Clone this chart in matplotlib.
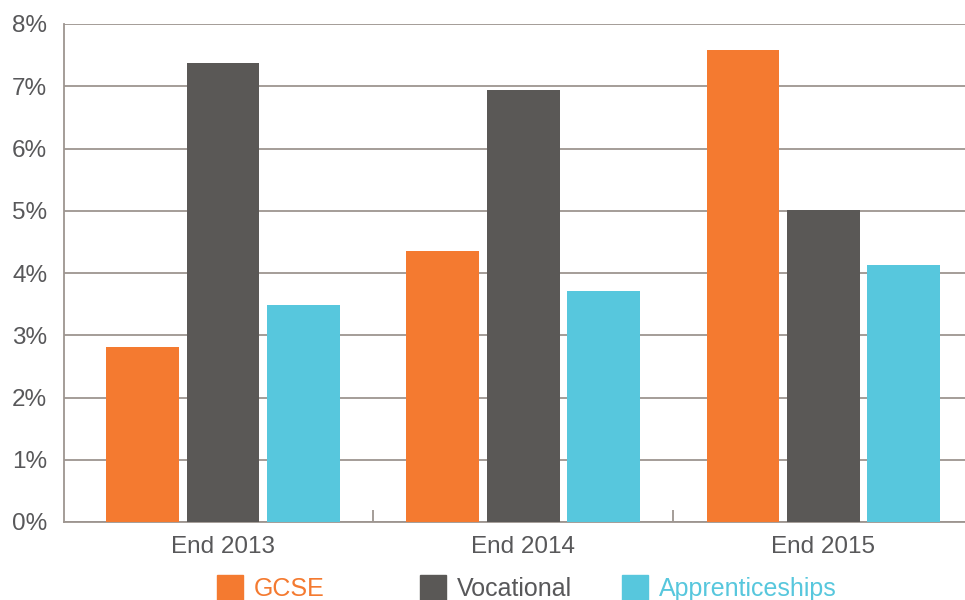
import matplotlib
matplotlib.use("Agg")
import matplotlib.pyplot as plt
import numpy as np
from matplotlib.patches import Rectangle

plt.rcParams["font.family"] = ["Liberation Sans", "DejaVu Sans"]

CATEGORIES = ["End 2013", "End 2014", "End 2015"]
SERIES = ["GCSE", "Vocational", "Apprenticeships"]
GCSE = [2.81, 4.35, 7.58]
VOCATIONAL = [7.37, 6.94, 5.01]
APPRENTICESHIPS = [3.49, 3.71, 4.13]
Y_TICKS = [0, 1, 2, 3, 4, 5, 6, 7, 8]

COLORS = ["#F47A30", "#5A5856", "#57C7DD"]
TEXT = "#58585A"
GRID = "#9D9590"

W, H = 965, 600
fig = plt.figure(figsize=(W / 100, H / 100), dpi=100)
ax = fig.add_axes([64 / W, 78 / H, (W - 64) / W, 498 / H])

x = np.arange(len(CATEGORIES))
bw = 0.243
step = 0.267
for i, (vals, c) in enumerate(zip([GCSE, VOCATIONAL, APPRENTICESHIPS], COLORS)):
    ax.bar(x + (i - 1) * step, vals, width=bw, color=c, zorder=3)

ax.set_xlim(-0.53, 2.473)
ax.set_ylim(0, 8)
ax.set_yticks(Y_TICKS)
ax.set_yticklabels([f"{v}%" for v in Y_TICKS])
ax.set_xticks(x)
ax.set_xticklabels(CATEGORIES)
ax.set_xticks([0.5, 1.5], minor=True)

ax.grid(axis="y", color=GRID, linewidth=1.3, zorder=0)
ax.set_axisbelow(True)
for s in ["top", "right"]:
    ax.spines[s].set_visible(False)
for s in ["left", "bottom"]:
    ax.spines[s].set_color(GRID)
    ax.spines[s].set_linewidth(1.3)

ax.tick_params(axis="y", length=0, pad=12, labelsize=17.5, labelcolor=TEXT)
ax.tick_params(axis="x", which="major", length=0, pad=10, labelsize=17.5,
               labelcolor=TEXT)
ax.tick_params(axis="x", which="minor", direction="in", length=9,
               color=GRID, width=1.3)

# legend drawn by hand: squares and coloured labels along the bottom
leg_x = [217, 420, 622]
for lx, name, c in zip(leg_x, SERIES, COLORS):
    fig.add_artist(Rectangle((lx / W, (H - 602) / H), 26 / W, 27 / H,
                             transform=fig.transFigure, color=c,
                             clip_on=False))
    fig.text((lx + 37) / W, (H - 589) / H, name,
             color=c if name != "Vocational" else TEXT,
             fontsize=18, va="center", ha="left")

fig.savefig("out.png", dpi=100)
